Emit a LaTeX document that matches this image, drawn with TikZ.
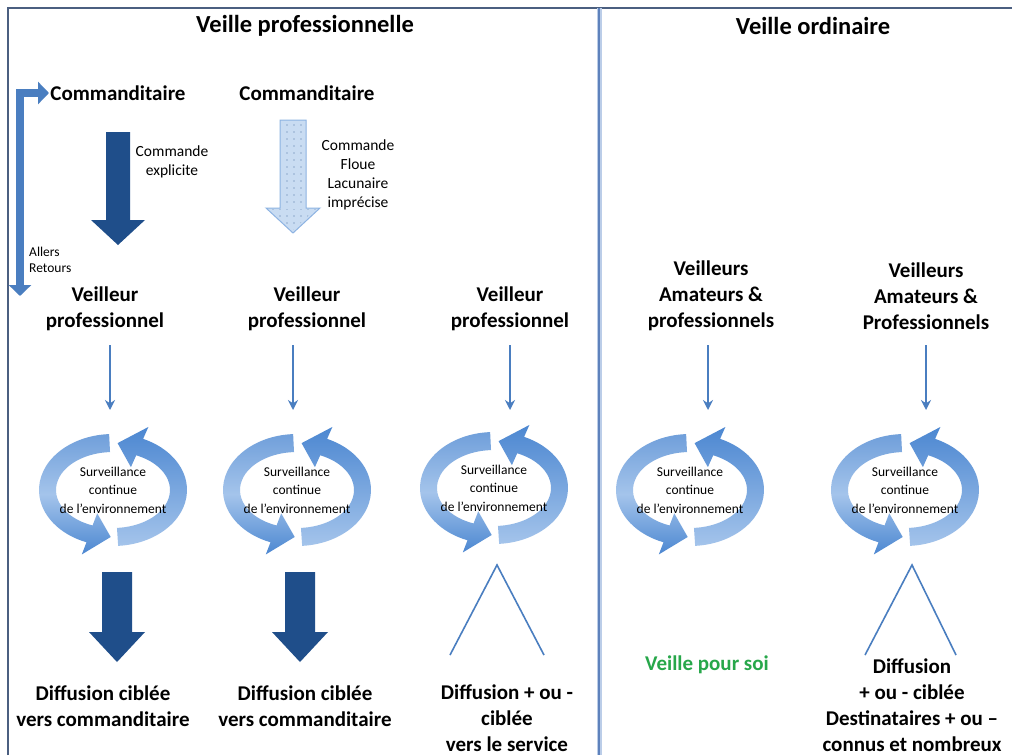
\documentclass[tikz,border=0pt]{standalone}
\usepackage{fontspec}
\setmainfont{Carlito}
\usetikzlibrary{arrows.meta,patterns.meta,calc}
\definecolor{navy}{HTML}{1F4E8A}
\definecolor{midblue}{HTML}{4A7EC0}
\definecolor{ringdark}{HTML}{4C87D1}
\definecolor{ringlight}{HTML}{A4C4EB}
\definecolor{dotfill}{HTML}{C9DCF2}
\definecolor{dotline}{HTML}{8DB3E2}
\definecolor{framecol}{HTML}{4B5F80}
\definecolor{divlight}{HTML}{BBCDE8}
\definecolor{divdark}{HTML}{5E82BC}
\definecolor{vgreen}{HTML}{27A74A}
\newcommand\blockarr[7]{\path[#1] (#2-#6,#3) -- (#2+#6,#3) -- (#2+#6,#4) -- (#2+#7,#4) -- (#2,#5) -- (#2-#7,#4) -- (#2-#6,#4) -- cycle;}
\newcommand\survring[3]{%
  \coordinate (#1) at (#2,#3);
  % right arrow: bottom -> right side -> top
  \path[top color=ringdark, bottom color=ringlight]
    ($(#1)+(86:74 and 56)$) arc[start angle=86,end angle=-66,x radius=74,y radius=56]
    -- ($(#1)+(-66:87 and 69)$) -- ($(#1)+(-86:65.5 and 47)$) -- ($(#1)+(-66:44 and 25)$)
    -- ($(#1)+(-66:57 and 38)$) arc[start angle=-66,end angle=86,x radius=57,y radius=38] -- cycle;
  % left arrow: top -> left side -> bottom
  \path[top color=ringdark!80, bottom color=ringdark, middle color=ringlight]
    ($(#1)+(-93:74 and 56)$) arc[start angle=-93,end angle=-249,x radius=74,y radius=56]
    -- ($(#1)+(-249:87 and 69)$) -- ($(#1)+(-268:65.5 and 47)$) -- ($(#1)+(-249:44 and 25)$)
    -- ($(#1)+(-249:57 and 38)$) arc[start angle=-249,end angle=-93,x radius=57,y radius=38] -- cycle;
}
\tikzset{
  ttl/.style={font=\fontsize{24.5}{28}\selectfont\bfseries, inner sep=0pt},
  hdr/.style={font=\fontsize{21}{26}\selectfont\bfseries, align=center, inner sep=0pt},
  sml/.style={font=\fontsize{15.5}{19}\selectfont, align=center, inner sep=0pt},
  tiny/.style={font=\fontsize{13.5}{16}\selectfont, align=left, inner sep=0pt},
  rtxt/.style={font=\fontsize{13.5}{18.5}\selectfont, align=center, inner sep=0pt},
  thinarr/.style={midblue, line width=1.8pt, -{Stealth[length=10pt,width=10pt]}},
  lam/.style={midblue, line width=1.6pt},
  navyarr/.style={fill=navy},
  dotarr/.style={fill=dotfill, draw=dotline, line width=1pt}
}
\begin{document}
\begin{tikzpicture}[x=1pt,y=-1pt]
\useasboundingbox (0,0) rectangle (1012,755);
\fill[white] (0,0) rectangle (1012,755);
% frame
\draw[framecol, line width=2pt] (8,755) -- (8,8) -- (1012,8);
\draw[divlight, line width=5pt] (599,8) -- (599,755);
\draw[divdark, line width=2pt] (599,8) -- (599,755);
% titles
\node[ttl] (t1) at (305,26) {Veille professionnelle};
\node[ttl] (t2) at (813,26) {Veille ordinaire};
% top row
\node[hdr] (c1) at (118,93) {Commanditaire};
\node[hdr] (c2) at (307,93) {Commanditaire};
\blockarr{navyarr}{118}{132}{220}{245}{12}{27}
\node[sml] (ce) at (172,162) {Commande\\explicite};
\blockarr{dotarr}{293}{120}{208}{233}{13}{27}
\path[pattern={Dots[distance=7pt,radius=0.6pt]}, pattern color=navy!80]
  (281,121) rectangle (305,208) (270,209) -- (316,209) -- (293,230) -- cycle;
\node[sml] (cf) at (358,175) {Commande\\Floue\\Lacunaire\\imprécise};
% allers retours
\coordinate (arA) at (49,93);
\coordinate (arC) at (20,93);
\coordinate (arB) at (20,296);
\draw[midblue, line width=8pt, line join=miter, {Triangle[length=11pt,width=22pt]}-{Triangle[length=11pt,width=22pt]}] (arA) -- (arC) -- (arB);
\node[tiny, anchor=west] (ar) at (29,260) {Allers\\Retours};
% veilleurs
\node[hdr] (v1) at (105,309) {Veilleur\\professionnel};
\node[hdr] (v2) at (307,309) {Veilleur\\professionnel};
\node[hdr] (v3) at (510,309) {Veilleur\\professionnel};
\node[hdr] (v4) at (711,296) {Veilleurs\\Amateurs \&\\professionnels};
\node[hdr] (v5) at (926,296) {Veilleurs\\Amateurs \&\\Professionnels};
% thin arrows
\foreach \i/\x in {1/110,2/293,3/510,4/708,5/926}{
  \coordinate (s\i) at (\x,345);
  \coordinate (e\i) at (\x,410);
  \draw[thinarr] (s\i) -- (e\i);
}
% rings
\survring{r1}{113}{490}
\survring{r2}{297}{490}
\survring{r3}{494}{488}
\survring{r4}{690}{490}
\survring{r5}{905}{490}
\foreach \i in {1,...,5}{
  \node[rtxt] (rt\i) at (r\i) {Surveillance\\continue\\de l’environnement};
}
% outputs
\blockarr{navyarr}{117}{572}{632}{662}{15}{28}
\blockarr{navyarr}{300}{572}{632}{662}{15}{28}
\coordinate (l3a) at (497,565);
\coordinate (l3l) at (450,655);
\coordinate (l3r) at (544,655);
\draw[lam] (l3l) -- (l3a) -- (l3r);
\coordinate (l5a) at (912,565);
\coordinate (l5l) at (865,655);
\coordinate (l5r) at (956,655);
\draw[lam] (l5l) -- (l5a) -- (l5r);
% bottom texts
\node[hdr] (d1) at (103,706) {Diffusion ciblée\\vers commanditaire};
\node[hdr] (d2) at (305,706) {Diffusion ciblée\\vers commanditaire};
\node[hdr] (d3) at (507,718) {Diffusion + ou -\\ciblée\\vers le service};
\node[hdr, text=vgreen] (d4) at (707,665) {Veille pour soi};
\node[hdr] (d5) at (912,705) {Diffusion\\+ ou - ciblée\\Destinataires + ou –\\connus et nombreux};
\end{tikzpicture}
\end{document}
